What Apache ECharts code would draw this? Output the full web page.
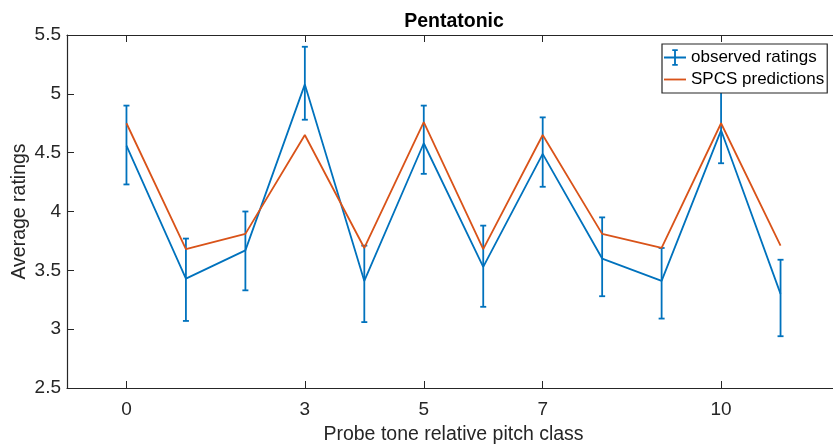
<!DOCTYPE html>
<html>
<head>
<meta charset="utf-8">
<script src="https://cdn.jsdelivr.net/npm/echarts@6/dist/echarts.min.js"></script>
<style>
  html, body { margin: 0; padding: 0; background: #fff; overflow: hidden; width: 833px; height: 446px; }
  #chart { width: 841px; height: 446px; }
</style>
</head>
<body>
<div id="chart"></div>
<script>
// Probe-tone ratings for the pentatonic context
const pitchClass = [0, 1, 2, 3, 4, 5, 6, 7, 8, 9, 10, 11];
const observed   = [4.56, 3.43, 3.67, 5.08, 3.41, 4.58, 3.53, 4.49, 3.60, 3.41, 4.69, 3.30];
const errLow     = [4.23, 3.07, 3.33, 4.78, 3.06, 4.32, 3.19, 4.21, 3.28, 3.09, 4.41, 2.94];
const errHigh    = [4.90, 3.77, 4.00, 5.40, 3.71, 4.90, 3.88, 4.80, 3.95, 3.69, 5.02, 3.59];
const spcs       = [4.75, 3.68, 3.81, 4.65, 3.69, 4.76, 3.68, 4.65, 3.81, 3.69, 4.75, 3.71];
const xTicks = [0, 3, 5, 7, 10];

const BLUE = '#0072BD';
const ORANGE = '#D95319';
const INK = '#262626';
const FONT = "'Liberation Sans', Arial, Helvetica, sans-serif";

const chart = echarts.init(document.getElementById('chart'), null, { renderer: 'canvas' });

const obsLine = pitchClass.map((x, i) => [x, observed[i]]);
const obsErr = pitchClass.map((x, i) => [x, errLow[i], errHigh[i]]);
const spcsLine = pitchClass.map((x, i) => [x, spcs[i]]);

// Vertical error bar with short caps at both ends
function errorBar(params, api) {
  const x = api.value(0);
  const lo = api.coord([x, api.value(1)]);
  const hi = api.coord([x, api.value(2)]);
  const cap = 3;
  const style = { stroke: BLUE, lineWidth: 1.8 };
  return {
    type: 'group',
    children: [
      { type: 'line', shape: { x1: lo[0], y1: lo[1], x2: hi[0], y2: hi[1] }, style },
      { type: 'line', shape: { x1: hi[0] - cap, y1: hi[1], x2: hi[0] + cap, y2: hi[1] }, style },
      { type: 'line', shape: { x1: lo[0] - cap, y1: lo[1], x2: lo[0] + cap, y2: lo[1] }, style }
    ]
  };
}

const tickStyle = { show: true, inside: true, length: 7, lineStyle: { color: INK, width: 1 } };
const lineStyle = { show: true, lineStyle: { color: INK, width: 1.2 } };

chart.setOption({
  animation: false,
  backgroundColor: '#fff',
  title: {
    text: 'Pentatonic',
    left: 449,
    textAlign: 'center',
    top: 7,
    textStyle: { fontFamily: FONT, fontSize: 19.5, fontWeight: 'bold', color: '#000' }
  },
  legend: {
    orient: 'vertical',
    left: 662,
    top: 44,
    itemWidth: 22,
    itemHeight: 18,
    itemGap: 5,
    padding: [5, 3, 5, 2],
    backgroundColor: '#fff',
    borderColor: INK,
    borderWidth: 1.2,
    borderRadius: 0,
    textStyle: { fontFamily: FONT, fontSize: 17, color: '#000' },
    data: [
      { name: 'observed ratings', icon: 'path://M0,8h24v2h-24z M11,1h2v16h-2z M9,0h6v2h-6z M9,16h6v2h-6z', itemStyle: { color: BLUE } },
      { name: 'SPCS predictions', icon: 'path://M0,8h24v2h-24z', itemStyle: { color: ORANGE } }
    ]
  },
  grid: { left: 67, top: 35, right: 1, bottom: 58, containLabel: false, outerBoundsMode: 'none' },
  xAxis: [
    {
      type: 'value', min: -1, max: 12, position: 'bottom',
      name: 'Probe tone relative pitch class', nameLocation: 'middle', nameGap: 37,
      nameMoveOverlap: false,
      nameTextStyle: { fontFamily: FONT, fontSize: 19.5, color: INK },
      axisLine: Object.assign({ onZero: false }, lineStyle),
      axisTick: Object.assign({ customValues: xTicks }, tickStyle),
      axisLabel: { customValues: xTicks, margin: 12, fontFamily: FONT, fontSize: 19, color: INK },
      splitLine: { show: false }
    },
    {
      type: 'value', min: -1, max: 12, position: 'top',
      axisLine: Object.assign({ onZero: false }, lineStyle),
      axisTick: Object.assign({ customValues: xTicks }, tickStyle),
      axisLabel: { show: false },
      splitLine: { show: false }
    }
  ],
  yAxis: [
    {
      type: 'value', min: 2.5, max: 5.5, interval: 0.5, position: 'left',
      name: 'Average ratings', nameLocation: 'middle', nameGap: 37, nameRotate: 90,
      nameMoveOverlap: false,
      nameTextStyle: { fontFamily: FONT, fontSize: 19.5, color: INK },
      axisLine: Object.assign({ onZero: false }, lineStyle),
      axisTick: tickStyle,
      axisLabel: { margin: 6, fontFamily: FONT, fontSize: 19, color: INK },
      splitLine: { show: false }
    },
    {
      type: 'value', min: 2.5, max: 5.5, interval: 0.5, position: 'right',
      axisLine: Object.assign({ onZero: false }, lineStyle),
      axisTick: tickStyle,
      axisLabel: { show: false },
      splitLine: { show: false }
    }
  ],
  series: [
    {
      name: 'observed ratings', type: 'custom', renderItem: errorBar,
      data: obsErr, encode: { x: 0, y: [1, 2] }, itemStyle: { color: BLUE }, z: 2
    },
    {
      name: 'observed ratings', type: 'line', data: obsLine, symbol: 'none',
      lineStyle: { color: BLUE, width: 1.8 }, itemStyle: { color: BLUE }, z: 2
    },
    {
      name: 'SPCS predictions', type: 'line', data: spcsLine, symbol: 'none',
      lineStyle: { color: ORANGE, width: 1.8 }, itemStyle: { color: ORANGE }, z: 3
    }
  ]
});
</script>
</body>
</html>
